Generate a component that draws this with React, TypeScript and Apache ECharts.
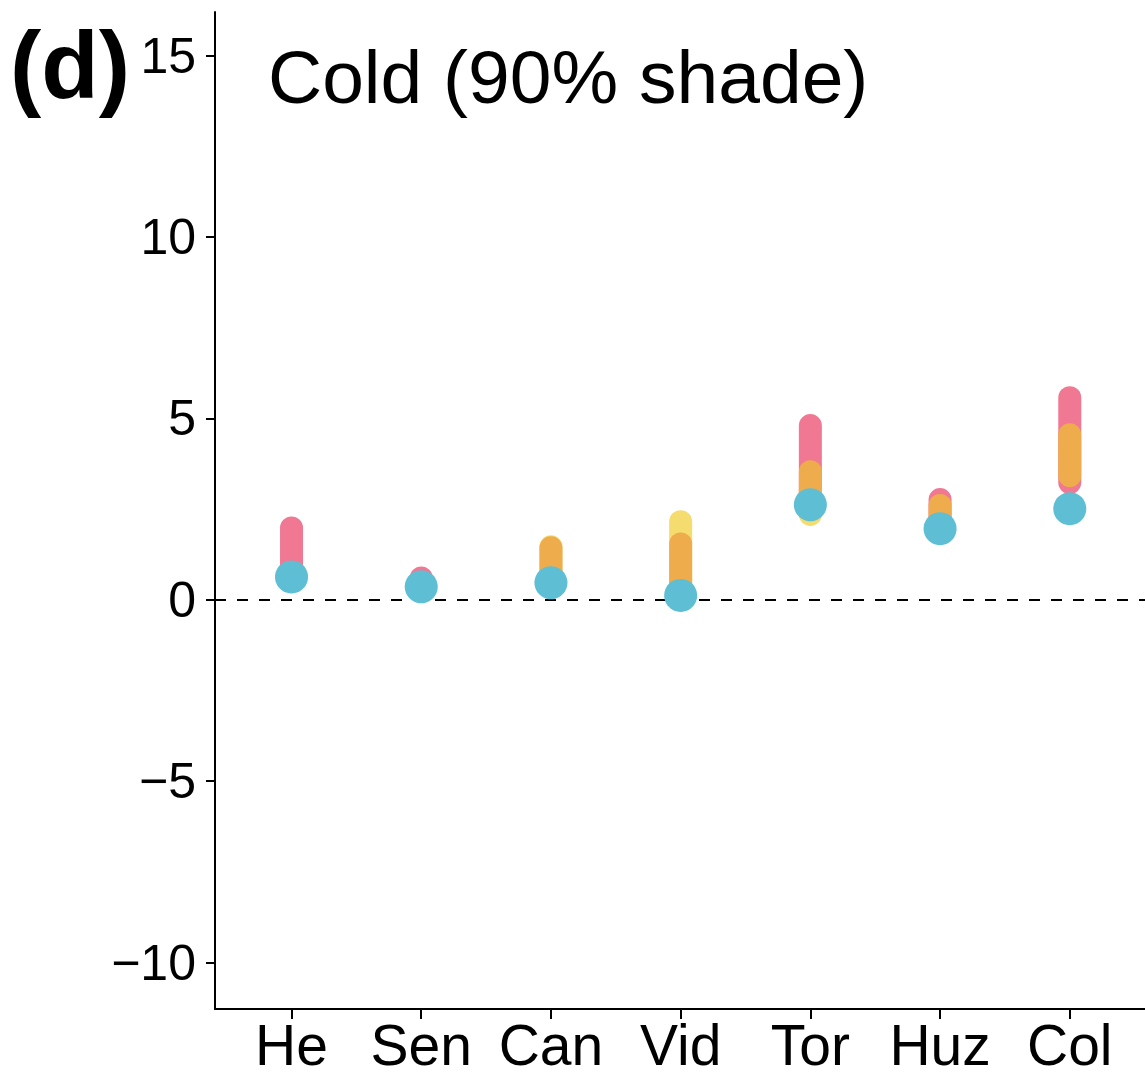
import React, { useEffect, useRef } from "react";
import * as echarts from "echarts";

const categories = ["He", "Sen", "Can", "Vid", "Tor", "Huz", "Col"];
const yTicks = [-10, -5, 0, 5, 10, 15];

// ranges [low, high] per category, null when absent
const pinkRange: ([number, number] | null)[] = [
  [0.63, 1.98], [0.36, 0.6], null, null, [2.6, 4.8], [2.0, 2.76], [3.23, 5.57],
];
const yellowRange: ([number, number] | null)[] = [
  null, null, [0.5, 1.46], [0.12, 2.15], [2.35, 3.0], null, null,
];
const orangeRange: ([number, number] | null)[] = [
  null, null, [0.47, 1.43], [0.12, 1.54], [2.62, 3.53], [2.0, 2.6], [3.42, 4.55],
];
const cyanValues = [0.63, 0.36, 0.47, 0.12, 2.62, 1.96, 2.51];

const FONT = "'Liberation Sans', Arial, Helvetica, sans-serif";

function rangeSeries(ranges: ([number, number] | null)[], color: string, z: number) {
  const data: number[][] = [];
  ranges.forEach((r, i) => {
    if (r) data.push([i + 1, r[0], r[1]]);
  });
  return {
    type: "custom",
    z,
    data,
    encode: { x: 0, y: [1, 2] },
    renderItem: (_params: any, api: any) => {
      const x = api.value(0);
      const lo = api.coord([x, api.value(1)]);
      const hi = api.coord([x, api.value(2)]);
      return {
        type: "line",
        shape: { x1: lo[0], y1: lo[1], x2: hi[0], y2: hi[1] },
        style: { stroke: color, lineWidth: 23, lineCap: "round" },
      };
    },
  };
}

export default function App() {
  const ref = useRef<HTMLDivElement>(null);
  useEffect(() => {
    document.body.style.margin = "0";
    const chart = echarts.init(ref.current!, null, { renderer: "svg" });
    chart.setOption({
      animation: false,
      backgroundColor: "#ffffff",
      grid: { left: 215, right: 0, top: 12, bottom: 71, containLabel: false },
      xAxis: {
        type: "value",
        min: 0.41,
        max: 7.58,
        axisLine: { show: true, onZero: false, lineStyle: { color: "#000", width: 2 } },
        axisTick: { show: true, length: 10, customValues: categories.map((_, i) => i + 1), lineStyle: { color: "#000", width: 2 } },
        splitLine: { show: false },
        axisLabel: {
          customValues: categories.map((_, i) => i + 1),
          formatter: (v: number) => categories[Math.round(v) - 1] ?? "",
          fontSize: 57,
          lineHeight: 57,
          fontFamily: FONT,
          color: "#000",
          margin: 7,
        },
      },
      yAxis: {
        type: "value",
        min: -11.28,
        max: 16.2,
        axisLine: { show: true, lineStyle: { color: "#000", width: 2 } },
        axisTick: { show: true, length: 9, customValues: yTicks, lineStyle: { color: "#000", width: 2 } },
        splitLine: { show: false },
        axisLabel: {
          customValues: yTicks,
          formatter: (v: number) => (v < 0 ? "\u2212" + Math.abs(v) : String(v)),
          fontSize: 50,
          fontFamily: FONT,
          color: "#000",
          margin: 19,
        },
      },
      graphic: [
        {
          type: "text",
          left: 10,
          top: 18,
          style: { text: "(d)", font: `bold 94px ${FONT}`, fill: "#000" },
        },
        {
          type: "text",
          x: 268,
          y: 77,
          style: { text: "Cold (90% shade)", font: `75px ${FONT}`, fill: "#000", verticalAlign: "middle" },
        },
      ],
      series: [
        {
          type: "line",
          data: [],
          markLine: {
            silent: true,
            symbol: "none",
            label: { show: false },
            lineStyle: { color: "#000", width: 2, type: [11, 11] },
            data: [{ yAxis: 0 }],
          },
        },
        rangeSeries(pinkRange, "#F07893", 2),
        rangeSeries(yellowRange, "#F4DC6E", 3),
        rangeSeries(orangeRange, "#EEAC4C", 4),
        {
          type: "scatter",
          z: 5,
          symbol: "circle",
          symbolSize: 33,
          itemStyle: { color: "#5EBED4", opacity: 1 },
          data: cyanValues.map((v, i) => [i + 1, v]),
        },
      ],
    });
    return () => chart.dispose();
  }, []);
  return <div ref={ref} style={{ width: 1145, height: 1080 }} />;
}
